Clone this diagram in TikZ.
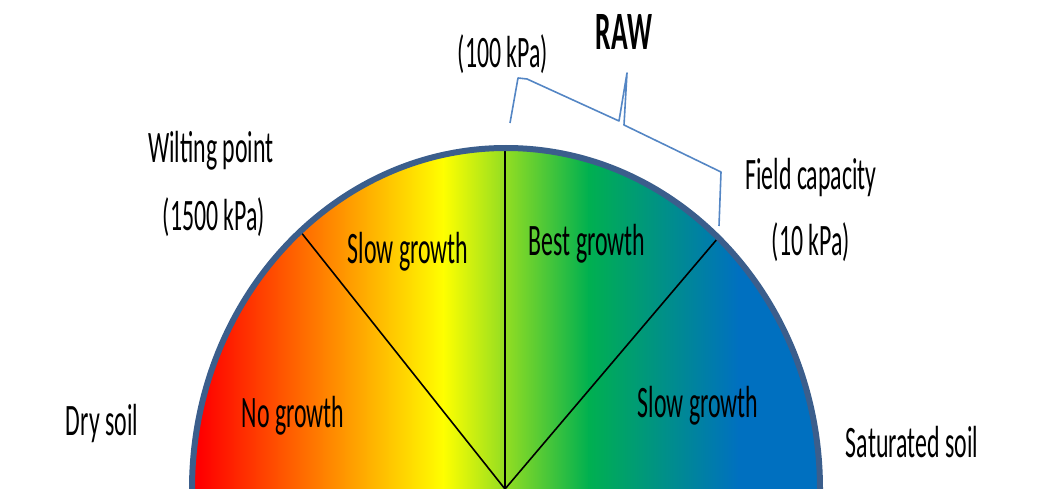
\documentclass[tikz,border=0pt]{standalone}
\usepackage{fontspec}
\setmainfont{Carlito}
\definecolor{rimblue}{RGB}{59,94,140}
\definecolor{brace}{RGB}{84,134,196}
\definecolor{gyellow}{RGB}{255,255,0}
\definecolor{ggreen}{RGB}{0,176,80}
\definecolor{gblue}{RGB}{0,112,192}
\definecolor{gred}{RGB}{255,0,0}
\tikzset{
  lbl/.style={anchor=base, inner sep=0pt, xscale=0.53, font=\fontsize{45}{54}\selectfont},
  rawlbl/.style={anchor=base, inner sep=0pt, xscale=0.51, font=\fontsize{54}{62}\selectfont\bfseries},
  divider/.style={draw=black, line width=1.6pt},
  rim/.style={draw=rimblue, line width=6pt},
  bracelines/.style={draw=brace, line width=1.6pt, line join=round}
}
\begin{document}
\begin{tikzpicture}[x=1pt, y=-1pt]
\useasboundingbox (0,0) rectangle (1060,489);
\clip (0,0) rectangle (1060,489);
% named points
\coordinate (C) at (505,489);
\coordinate (W) at (300,231);
\coordinate (T) at (505,148);
\coordinate (F) at (718,238);
% gradient fill of the half disc
\begin{scope}
  \clip (506,489) ellipse [x radius=314pt, y radius=341pt];
  \fill[gred] (180,140) rectangle (201,495);
  \shade[left color=gred, right color=gyellow] (200,140) rectangle (444,495);
  \shade[left color=gyellow, right color=ggreen] (443,140) rectangle (589,495);
  \shade[left color=ggreen, right color=gblue] (588,140) rectangle (739,495);
  \fill[gblue] (738,140) rectangle (830,495);
\end{scope}
% dividers
\draw[divider] (C) -- (W);
\draw[divider] (C) -- (T);
\draw[divider] (C) -- (F);
% rim
\draw[rim] (192,489) arc[start angle=180, end angle=0, x radius=314pt, y radius=341pt];
% RAW brace
\coordinate (b1) at (510,123);
\coordinate (b2) at (518,78);
\coordinate (b3) at (527,79);
\coordinate (b4) at (619,121);
\coordinate (b5) at (627,73);
\coordinate (b6) at (624,125);
\coordinate (b7) at (721,172);
\coordinate (b8) at (719,226);
\draw[bracelines] (b1) -- (b2) -- (b3) -- (b4) -- (b5) -- (b6) -- (b7) -- (b8);
% labels
\node[rawlbl] (raw) at (624,50) {RAW};
\node[lbl] (p100) at (503,68) {(100 kPa)};
\node[lbl] (wp) at (211,163) {Wilting point};
\node[lbl] (p1500) at (214,230) {(1500 kPa)};
\node[lbl] (fc) at (811,190) {Field capacity};
\node[lbl] (p10) at (811,255) {(10 kPa)};
\node[lbl] (sg1) at (408,263) {Slow growth};
\node[lbl] (bg) at (587,255) {Best growth};
\node[lbl] (ng) at (293,427) {No growth};
\node[lbl] (sg2) at (698,417) {Slow growth};
\node[lbl] (dry) at (102,435) {Dry soil};
\node[lbl] (sat) at (912,457) {Saturated soil};
\end{tikzpicture}
\end{document}
